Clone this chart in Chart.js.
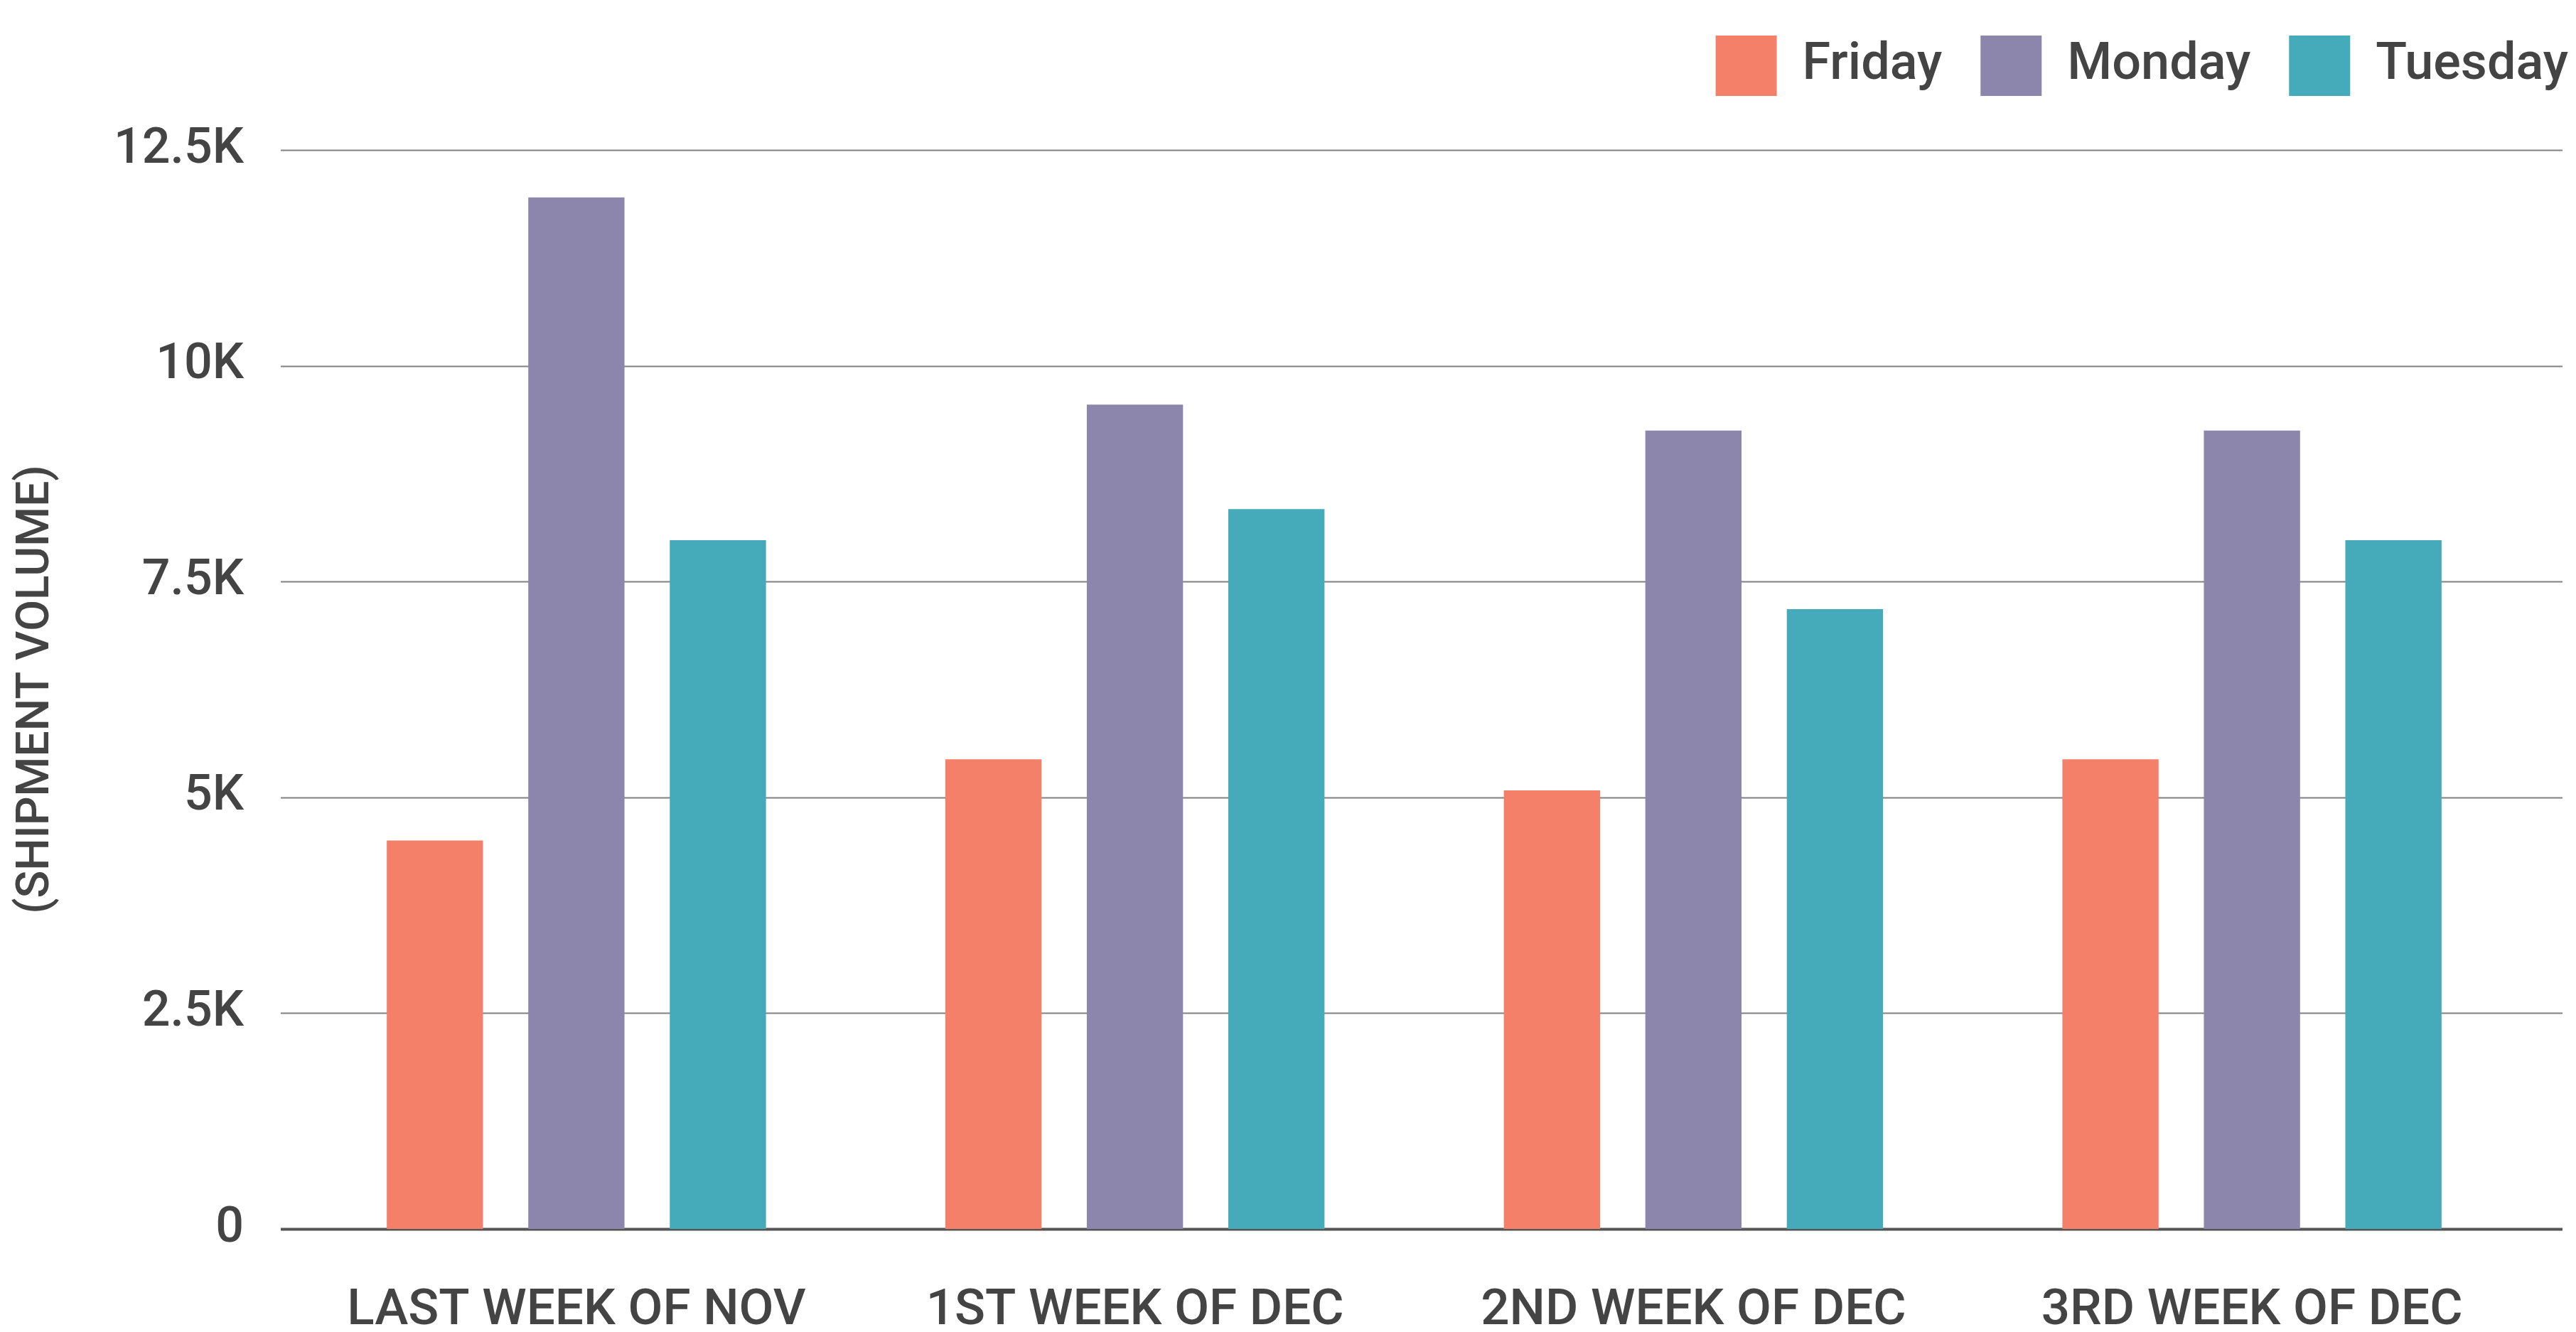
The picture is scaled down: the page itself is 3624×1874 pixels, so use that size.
<!DOCTYPE html>
<html>
<head>
<meta charset="utf-8">
<script src="https://cdn.jsdelivr.net/npm/chart.js@4.4.1/dist/chart.umd.min.js"></script>
<style>
  html, body { margin: 0; padding: 0; background: #fff; }
  #wrap { width: 3624px; height: 1874px; }
</style>
</head>
<body>
<div id="wrap"><canvas id="shipChart"></canvas></div>
<script>
const weeks = ["LAST WEEK OF NOV", "1ST WEEK OF DEC", "2ND WEEK OF DEC", "3RD WEEK OF DEC"];
const friday = [4500, 5440, 5080, 5440];
const monday = [11950, 9550, 9250, 9250];
const tuesday = [7980, 8340, 7180, 7980];
const yTicks = [0, 2500, 5000, 7500, 10000, 12500];

document.addEventListener("DOMContentLoaded", function () {
  const ctx = document.getElementById("shipChart").getContext("2d");
  const textColor = "#444444";

  // grid lines drawn a bit wider than the plot, like the original
  const wideGrid = {
    id: "wideGrid",
    beforeDatasetsDraw(chart) {
      const y = chart.scales.y;
      const area = chart.chartArea;
      const c = chart.ctx;
      c.save();
      y.ticks.forEach((t) => {
        const py = Math.round(y.getPixelForValue(t.value)) + 0.5;
        c.beginPath();
        c.lineWidth = t.value === 0 ? 4 : 2;
        c.strokeStyle = t.value === 0 ? "#555555" : "#808080";
        c.moveTo(area.left - 23, py);
        c.lineTo(area.right + 44, py);
        c.stroke();
      });
      c.restore();
    },
  };

  // extra room under the legend
  const legendGap = {
    id: "legendGap",
    beforeInit(chart) {
      const fit = chart.legend.fit;
      chart.legend.fit = function () {
        fit.call(this);
        this.height += 66;
      };
    },
  };

  const data = {
    labels: weeks,
    datasets: [
      { label: "Friday", data: friday, backgroundColor: "#F4806A" },
      { label: "Monday", data: monday, backgroundColor: "#8C86AD" },
      { label: "Tuesday", data: tuesday, backgroundColor: "#45ABBA" },
    ],
  };

  const config = {
    type: "bar",
    data: data,
    plugins: [wideGrid, legendGap],
    options: {
      responsive: false,
      animation: false,
      devicePixelRatio: 1,
      layout: { padding: { top: -4, right: -43, bottom: 0, left: 0 } },
      datasets: {
        bar: { barPercentage: 0.68, categoryPercentage: 0.76 },
      },
      plugins: {
        legend: {
          position: "top",
          align: "end",
          labels: {
            boxWidth: 86,
            boxHeight: 85,
            padding: 54,
            color: textColor,
            font: { family: "Roboto", size: 72, weight: "500" },
          },
        },
        tooltip: { enabled: false },
      },
      scales: {
        x: {
          grid: { display: false, drawTicks: false },
          border: { display: false },
          ticks: {
            color: textColor,
            padding: 74,
            maxRotation: 0,
            font: { family: "Roboto", size: 71, weight: "500" },
          },
          afterFit: (scale) => { scale.height = 145; },
        },
        y: {
          min: 0,
          max: 12500,
          afterBuildTicks: (scale) => { scale.ticks = yTicks.map((v) => ({ value: v })); },
          grid: { display: false, drawTicks: false },
          border: { display: false },
          ticks: {
            color: textColor,
            padding: 75,
            font: { family: "Roboto", size: 70, weight: "500" },
            callback: (v) => (v === 0 ? "0" : v / 1000 + "K"),
          },
          title: {
            display: true,
            text: "(SHIPMENT VOLUME)",
            color: textColor,
            padding: { top: 14, bottom: 0 },
            font: { family: "Roboto", size: 64, weight: "500" },
          },
          afterFit: (scale) => { scale.width = 418; },
        },
        yRight: {
          position: "right",
          min: 0,
          max: 12500,
          grid: { display: false, drawTicks: false },
          border: { display: false },
          ticks: { display: false },
          afterFit: (scale) => { scale.width = 106; },
        },
      },
    },
  };

  const canvas = document.getElementById("shipChart");
  canvas.width = 3624;
  canvas.height = 1874;
  const shipChart = new Chart(ctx, config);
});
</script>
</body>
</html>
